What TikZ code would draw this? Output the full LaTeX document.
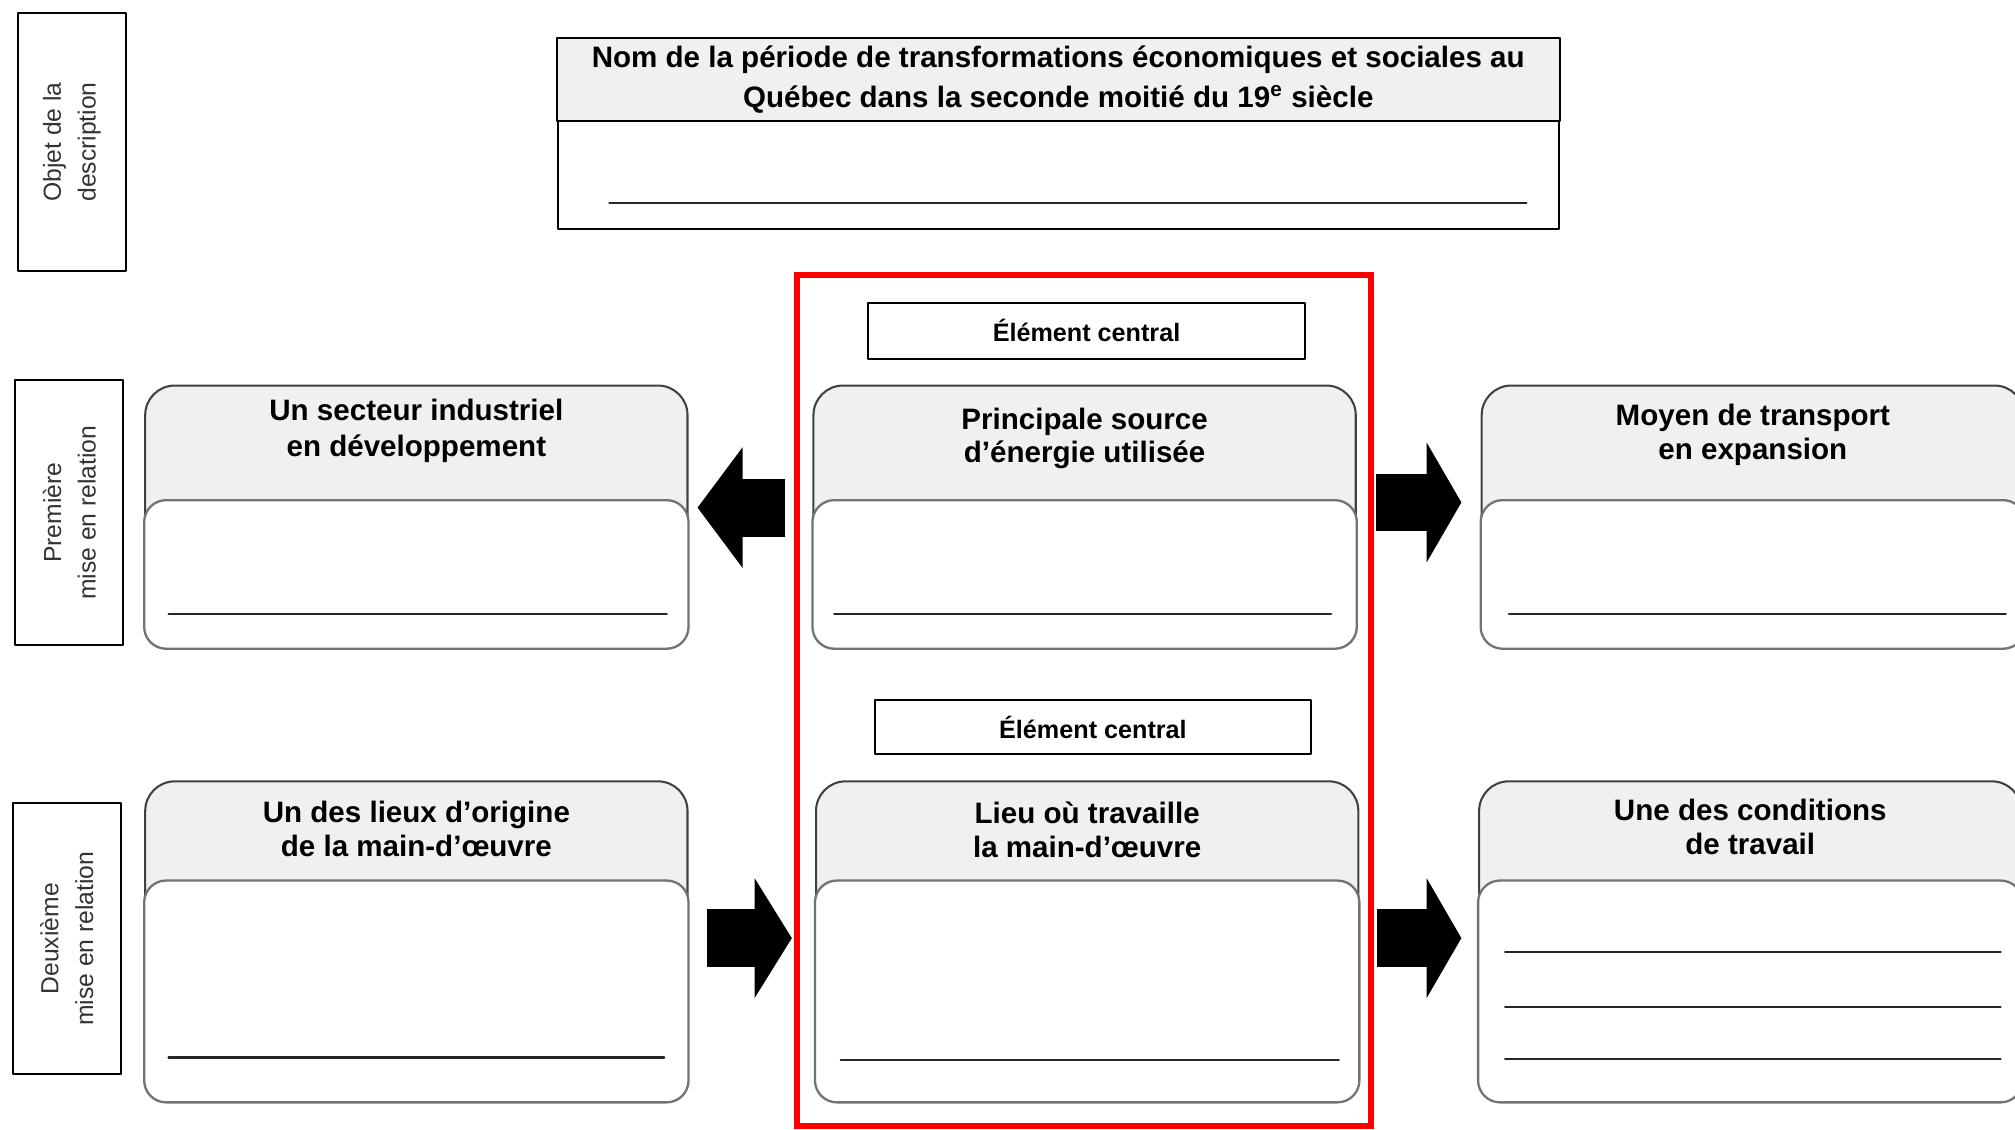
\documentclass[tikz,border=0pt]{standalone}
\usepackage{fontspec}
\setmainfont{Liberation Sans}
\usetikzlibrary{arrows.meta}

\begin{document}
\begin{tikzpicture}[x=0.5pt,y=-0.5pt,font=\bfseries\fontsize{11.5}{14}\selectfont,line join=round,line cap=round]
	\tikzset{
		fiche/.style={draw=black!75,fill=black!6,line width=0.8pt,rounded corners=11.5pt},
		bas/.style={draw=black!55,fill=white,line width=0.9pt,rounded corners=8.5pt},
		titre/.style={inner sep=0pt,align=center,below=5.5pt},
		ligne/.style={draw=black!85,line width=0.9pt},
		cote/.style={draw,line width=0.8pt,rotate=90,minimum height=42pt,text=black!80,font=\mdseries\fontsize{9.6}{13.5}\selectfont,align=center},
		centre/.style={draw,line width=0.8pt,minimum width=170pt,minimum height=21.5pt,font=\bfseries\fontsize{9.8}{12}\selectfont},
		fleche/.style={line width=22.5pt,line cap=butt,-{Triangle[length=#1,width=46pt]}},
		fleche/.default=13.5pt
	}
	\useasboundingbox (0,0) rectangle (1568,879);
	% etiquettes de gauche
	\node[cote,minimum width=100.5pt] (objet) at (56,110.5) {Objet de la\\description};
	\node[cote,minimum width=103pt] (premiere) at (54,399) {Première\\mise en relation};
	\node[cote,minimum width=105.5pt] (deuxieme) at (52,730.5) {Deuxième\\mise en relation};
	% objet de la description
	\node[draw,line width=0.8pt,minimum width=389.5pt,minimum height=74pt] (nom) at (823.5,104) {};
	\draw[fill=black!6,line width=0.8pt] (nom.north west) rectangle ([yshift=-32.5pt]nom.north east);
	\node[titre,below=-2.5pt,font=\bfseries\fontsize{11.5}{15.5}\selectfont] (nomT) at (nom.north) {Nom de la période de transformations économiques et sociales au\\Québec dans la seconde moitié du 19\textsuperscript{e} siècle};
	\draw[ligne] ([xshift=20.5pt,yshift=10.5pt]nom.south west) -- ([xshift=-13pt,yshift=10.5pt]nom.south east);
	% cadre rouge
	\draw[red,line width=2.5pt,line join=miter] (620,214) rectangle (1067,876);
	\node[centre] (ec1) at (845.5,257.5) {Élément central};
	\node[centre,minimum width=169.5pt,minimum height=21pt] (ec2) at (850.5,566) {Élément central};
	% premiere mise en relation
	\node[fiche,minimum width=211pt,minimum height=102pt] (secteur) at (324,402) {};
	\draw[bas] (secteur.south west) rectangle ([yshift=-45pt]secteur.north east);
	\node[titre] (secteurT) at (secteur.north) {Un secteur industriel\\en développement};
	\draw[ligne] ([xshift=9.5pt,yshift=13.5pt]secteur.south west) -- ([xshift=-8.5pt,yshift=13.5pt]secteur.south east);
	\node[fiche,minimum width=211pt,minimum height=102pt] (energie) at (844,402) {};
	\draw[bas] (energie.south west) rectangle ([yshift=-45pt]energie.north east);
	\node[titre,below=3.5pt,font=\bfseries\fontsize{11.5}{13}\selectfont] (energieT) at (energie.north) {Principale source\\d’énergie utilisée};
	\draw[ligne] ([xshift=8.5pt,yshift=13.5pt]energie.south west) -- ([xshift=-10pt,yshift=13.5pt]energie.south east);
	\node[fiche,minimum width=211pt,minimum height=102pt] (transport) at (1364,402) {};
	\draw[bas] (transport.south west) rectangle ([yshift=-45pt]transport.north east);
	\node[titre,below=2pt,font=\bfseries\fontsize{11.5}{13}\selectfont] (transportT) at (transport.north) {Moyen de transport\\en expansion};
	\draw[ligne] ([xshift=11pt,yshift=13.5pt]transport.south west) -- ([xshift=-7.5pt,yshift=13.5pt]transport.south east);
	% deuxieme mise en relation
	\node[fiche,minimum width=211pt,minimum height=124.5pt] (origine) at (324,732.5) {};
	\draw[bas] (origine.south west) rectangle ([yshift=-39pt]origine.north east);
	\node[titre,below=2.5pt,font=\bfseries\fontsize{11.5}{13}\selectfont] (origineT) at (origine.north) {Un des lieux d’origine\\de la main-d’œuvre};
	\draw[ligne] ([xshift=9.5pt,yshift=17.5pt]origine.south west) -- ([xshift=-9.5pt,yshift=17.5pt]origine.south east);
	\node[fiche,minimum width=211pt,minimum height=124.5pt] (lieu) at (846,732.5) {};
	\draw[bas] (lieu.south west) rectangle ([yshift=-39pt]lieu.north east);
	\node[titre,below=2.5pt,font=\bfseries\fontsize{11.5}{13.5}\selectfont] (lieuT) at (lieu.north) {Lieu où travaille\\la main-d’œuvre};
	\draw[ligne] ([xshift=10pt,yshift=16.5pt]lieu.south west) -- ([xshift=-8pt,yshift=16.5pt]lieu.south east);
	\node[fiche,minimum width=211pt,minimum height=124.5pt] (conditions) at (1362,732.5) {};
	\draw[bas] (conditions.south west) rectangle ([yshift=-39pt]conditions.north east);
	\node[titre,below=1.5pt,font=\bfseries\fontsize{11.5}{13.5}\selectfont] (conditionsT) at (conditions.north) {Une des conditions\\de travail};
	\foreach \h in {17,37,58.5}
	\draw[ligne] ([xshift=10.5pt,yshift=\h pt]conditions.south west) -- ([xshift=-8.5pt,yshift=\h pt]conditions.south east);
	% fleches
	\draw[fleche=17.5pt] ([xshift=-10.5pt,yshift=3.5pt]energie.west) -- ([xshift=3.5pt,yshift=3.5pt]secteur.east);
	\draw[fleche] ([xshift=7.5pt,yshift=5.5pt]energie.east) -- ([xshift=-7.5pt,yshift=5.5pt]transport.west);
	\draw[fleche=14.5pt] ([xshift=7pt,yshift=1.25pt]origine.east) -- ([xshift=-9pt,yshift=1.25pt]lieu.west);
	\draw[fleche] ([xshift=7pt,yshift=1.25pt]lieu.east) -- ([xshift=-6.5pt,yshift=1.25pt]conditions.west);
\end{tikzpicture}
\end{document}
